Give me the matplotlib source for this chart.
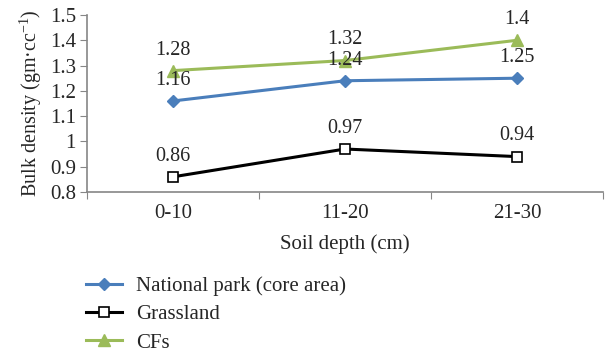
import matplotlib
matplotlib.use("Agg")
import matplotlib.pyplot as plt
import numpy as np

plt.rcParams['font.family'] = ['Liberation Serif', 'DejaVu Serif']
plt.rcParams['mathtext.fontset'] = 'custom'
plt.rcParams['mathtext.rm'] = 'Liberation Serif'
plt.rcParams['mathtext.it'] = 'Liberation Serif:italic'
plt.rcParams['mathtext.bf'] = 'Liberation Serif:bold'

depths = ["0-10", "11-20", "21-30"]
national_park = [1.16, 1.24, 1.25]
grassland = [0.86, 0.97, 0.94]
cfs = [1.28, 1.32, 1.4]
y_ticks = [0.8, 0.9, 1, 1.1, 1.2, 1.3, 1.4, 1.5]
y_tick_labels = ["0.8", "0.9", "1", "1.1", "1.2", "1.3", "1.4", "1.5"]

fs = 15
fs_val = 14.5
text_color = "#262626"
axis_gray = "#868686"

fig = plt.figure(figsize=(6.05, 3.56), dpi=100)
ax = fig.add_axes([87 / 605, 1 - 192 / 356, (603 - 87) / 605, (192 - 15) / 356])

x = np.arange(len(depths)) + 0.5
series = [
    (national_park, "National park (core area)", "#4A7EBB", dict(marker="D", markersize=6.5, markerfacecolor="#4A7EBB", markeredgecolor="#4A7EBB")),
    (grassland, "Grassland", "#000000", dict(marker="s", markersize=7.5, markerfacecolor="white", markeredgecolor="#000000", markeredgewidth=1.2)),
    (cfs, "CFs", "#9BBB59", dict(marker="^", markersize=8, markerfacecolor="#9BBB59", markeredgecolor="#9BBB59")),
]
for vals, name, color, mk in series:
    ax.plot(x, vals, color=color, linewidth=2.2, label=name, **mk)
    for xi, v in zip(x, vals):
        ax.annotate(f"{v:g}", (xi, v), xytext=(0, 8), textcoords="offset points",
                    ha="center", va="bottom", fontsize=fs_val, color=text_color)

ax.set_xlim(0, 3)
ax.set_ylim(0.8, 1.5)
ax.set_yticks(y_ticks)
ax.set_yticklabels(y_tick_labels)
ax.set_xticks([0, 1, 2, 3])
ax.set_xticklabels([])
ax.set_xticks(x, minor=True)
ax.set_xticklabels(depths, minor=True)
ax.tick_params(axis="x", which="minor", length=0, pad=9, labelsize=fs, labelcolor=text_color)
ax.tick_params(axis="x", which="major", length=5, color=axis_gray, direction="out")
ax.tick_params(axis="y", length=5, color=axis_gray, labelsize=fs, labelcolor=text_color, pad=3)

for s in ["top", "right"]:
    ax.spines[s].set_visible(False)
for s in ["left", "bottom"]:
    ax.spines[s].set_color(axis_gray)
    ax.spines[s].set_linewidth(1.2)

ax.set_xlabel("Soil depth (cm)", fontsize=fs, color=text_color, labelpad=8)
ax.set_ylabel("Bulk density (gm·cc$^{-1}$)", fontsize=14.5, color=text_color, labelpad=4)

handles, labels = ax.get_legend_handles_labels()
fig.legend(handles, labels, loc="upper left", bbox_to_anchor=(78 / 605, 1 - 268 / 356),
           frameon=False, fontsize=fs, handlelength=1.7, handletextpad=0.7,
           labelspacing=0.42, labelcolor=text_color, borderaxespad=0)

fig.savefig("out.png", dpi=100)
